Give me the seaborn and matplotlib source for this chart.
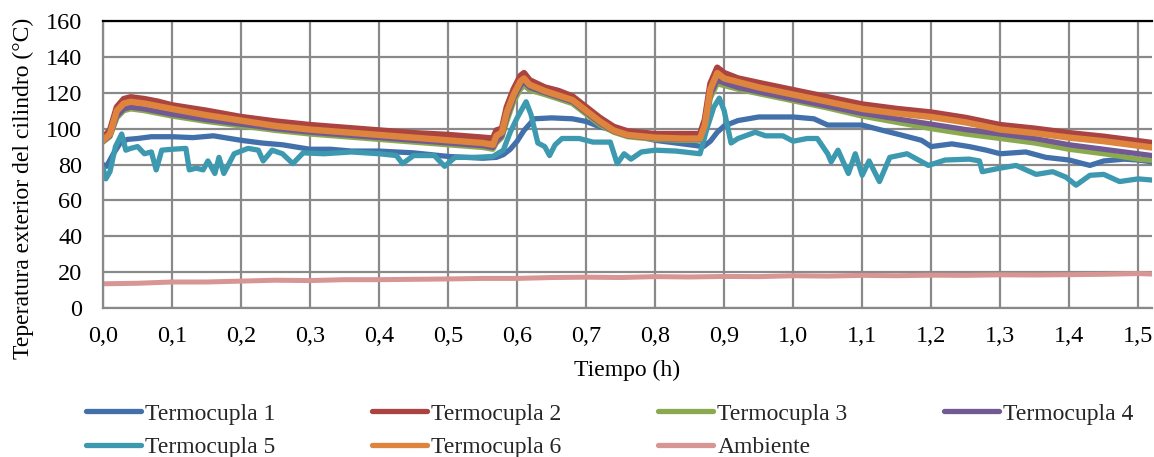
import pandas as pd
import matplotlib
matplotlib.use("Agg")
import matplotlib.pyplot as plt
import seaborn as sns

# tiempo (h) comun para las termocuplas 2, 3, 4 y 6
t_hot = [0, 0.01, 0.02, 0.03, 0.04, 0.06, 0.08, 0.1, 0.15, 0.2, 0.25, 0.3, 0.35, 0.4, 0.45, 0.5, 0.55,
         0.565, 0.57, 0.578, 0.585, 0.595, 0.605, 0.61, 0.618, 0.64, 0.66, 0.68, 0.7, 0.72, 0.74, 0.76,
         0.8, 0.84, 0.865, 0.872, 0.88, 0.89, 0.9, 0.92, 0.95, 1.0, 1.05, 1.1, 1.15, 1.2, 1.25, 1.3,
         1.35, 1.4, 1.45, 1.5, 1.53]
tc2 = [95, 99, 112, 116.5, 117.5, 116.5, 115, 113, 110, 106.5, 104, 102, 100.5, 99, 97.5, 96.5, 95,
       94.5, 99, 100, 112, 122, 129.5, 131, 127, 123, 121, 118, 112, 106, 101, 98.5,
       97, 97, 97, 105, 125, 134, 131, 128, 125.5, 121.5, 117.5, 113.5, 111, 109, 106, 102,
       100, 97.5, 95.5, 93, 91.5]
tc6 = [93.5, 97, 110, 114, 115, 114, 112.5, 111, 107.5, 104.5, 101.5, 99.5, 98, 96.5, 95, 93.5, 92,
       91, 96, 98, 109, 119, 126.5, 128, 124.5, 121, 118.5, 116, 110, 104, 99, 96.5,
       95, 94.5, 94.5, 102, 122, 131, 128, 126, 123, 119, 115, 111, 108.5, 106.5, 103.5, 99.5,
       97.5, 95, 93, 90.5, 89]
tc4 = [93, 96, 107, 111, 112, 111, 109.5, 108, 105, 102.5, 100, 98, 96.5, 95, 93.5, 92, 90.5,
       89.5, 93, 96, 106, 117, 124, 126, 123, 120, 117.5, 115, 109, 103, 98.5, 96,
       94.5, 94, 94, 100, 119, 127, 125.5, 123, 120.5, 116.5, 112.5, 108.5, 105.5, 102.5, 99.5, 97,
       94.5, 91, 88.5, 86, 84.5]
tc3 = [92.5, 95.5, 106, 110, 111, 110, 108.5, 107, 104, 101.5, 99, 97, 95.5, 94, 92.5, 91, 89.5,
       88.5, 92, 95, 104, 115, 122, 124, 121.5, 119, 116.5, 114, 108, 102, 98, 95.5,
       94, 93.5, 93.5, 99, 117, 125, 124, 122, 119.5, 115.5, 111.5, 107, 103.5, 100, 97, 94.5,
       92, 88.5, 86, 83, 82]

t_tc1 = [0, 0.005, 0.015, 0.025, 0.035, 0.05, 0.07, 0.1, 0.13, 0.16, 0.2, 0.23, 0.26, 0.3, 0.33,
         0.36, 0.4, 0.45, 0.5, 0.55, 0.57, 0.58, 0.59, 0.6, 0.61, 0.625, 0.65, 0.68, 0.7, 0.72,
         0.75, 0.8, 0.85, 0.87, 0.88, 0.89, 0.9, 0.92, 0.95, 1.0, 1.03, 1.05, 1.08, 1.1, 1.13,
         1.156, 1.186, 1.2, 1.23, 1.255, 1.28, 1.3, 1.337, 1.366, 1.4, 1.43, 1.45, 1.48, 1.5, 1.53]
tc1 = [80, 79, 86, 92, 94, 94.5, 95.5, 95.5, 95, 96, 93.5, 92, 91, 88.5, 88.5,
       87.5, 87.5, 86.5, 84.5, 83.5, 84, 85.5, 88.5, 93, 99, 105.5, 106, 105.5, 104, 101,
       98, 93.5, 91, 90, 93, 98, 101.5, 104.5, 106.5, 106.5, 105.5, 102, 102, 102, 99,
       96.5, 93.5, 90, 91.5, 90, 88, 86, 87, 84, 82.5, 79.5, 82, 83, 82.5, 81]

t_tc5 = [0, 0.004, 0.01, 0.018, 0.027, 0.033, 0.04, 0.05, 0.06, 0.07,
         0.077, 0.085, 0.1, 0.12, 0.125, 0.135, 0.145, 0.152, 0.162, 0.168,
         0.175, 0.19, 0.21, 0.225, 0.232, 0.245, 0.26, 0.275, 0.29, 0.32,
         0.36, 0.4, 0.425, 0.434, 0.45, 0.48, 0.495, 0.51, 0.54, 0.565,
         0.58, 0.59, 0.6, 0.613, 0.62, 0.63, 0.64, 0.647, 0.655, 0.665,
         0.69, 0.71, 0.735, 0.745, 0.755, 0.765, 0.78, 0.8, 0.83, 0.865,
         0.875, 0.885, 0.893, 0.9, 0.91, 0.92, 0.945, 0.96, 0.985, 1.0,
         1.02, 1.035, 1.05, 1.055, 1.065, 1.08, 1.09, 1.1, 1.11, 1.125,
         1.14, 1.165, 1.196, 1.22, 1.255, 1.27, 1.274, 1.3, 1.323, 1.352,
         1.376, 1.395, 1.41, 1.43, 1.45, 1.473, 1.5, 1.53]
tc5 = [78, 72, 76, 90, 97, 88, 89, 90, 86, 87,
       77, 88, 88.5, 89, 77, 78, 77, 82, 75, 84,
       75, 86, 89, 88, 82, 88, 86, 80.5, 86.5, 86,
       87, 86, 85, 80.5, 85, 85, 79, 84, 84, 84.5,
       88, 98, 106, 115, 108, 92, 90, 85, 91, 94.5,
       94.5, 92.5, 92.5, 80.5, 86, 83, 87, 88, 87.5, 86,
       100, 112, 117, 110, 92, 94.5, 98, 96, 96, 93,
       94.5, 94.5, 86, 81.5, 88, 75, 86, 74, 82, 70.5,
       84, 86, 79.5, 82.5, 83, 82, 76, 78, 79.5, 74.5,
       76, 73, 68.5, 74, 74.5, 70.5, 72, 71]

t_amb = [0, 0.05, 0.1, 0.15, 0.2, 0.25, 0.3, 0.35, 0.4, 0.45, 0.5, 0.55, 0.6, 0.65, 0.7, 0.75,
         0.8, 0.85, 0.9, 0.95, 1.0, 1.05, 1.1, 1.15, 1.2, 1.25, 1.3, 1.35, 1.4, 1.45, 1.5, 1.53]
amb = [13.5, 13.8, 14.5, 14.5, 15, 15.5, 15.3, 15.8, 15.8, 16, 16.2, 16.5, 16.5, 17, 17.2, 17,
       17.5, 17.3, 17.6, 17.5, 18, 17.8, 18.2, 18, 18.3, 18.2, 18.5, 18.4, 18.6, 18.8, 19.2, 18.8]

series = ['Termocupla 1', 'Termocupla 2', 'Termocupla 3', 'Termocupla 4',
          'Termocupla 5', 'Termocupla 6', 'Ambiente']
colores = ['#4270AA', '#AB4441', '#8BAA4F', '#715A94', '#3D99B0', '#DE843C', '#D79593']
grosor = [3.8, 4.6, 3.8, 3.8, 3.8, 4.6, 3.6]

frames = []
for name, t, v in zip(series,
                      [t_tc1, t_hot, t_hot, t_hot, t_tc5, t_hot, t_amb],
                      [tc1, tc2, tc3, tc4, tc5, tc6, amb]):
    frames.append(pd.DataFrame({'t': t, 'T': v, 'serie': name}))
df = pd.concat(frames, ignore_index=True)

sns.set_theme(style="whitegrid")
plt.rcParams['font.family'] = ['Liberation Serif', 'DejaVu Serif']

fig = plt.figure(figsize=(11.54, 4.57), dpi=100)
ax = fig.add_axes([0.0893, 0.326, 0.909, 0.628])

sns.lineplot(data=df, x='t', y='T', hue='serie', hue_order=series,
             palette=dict(zip(series, colores)), estimator=None, sort=False,
             linewidth=3.8, ax=ax)
for line, lw in zip(ax.get_lines(), grosor):
    line.set_linewidth(lw)
    line.set_solid_joinstyle('round')

gris = '#898989'
ax.set_xlim(0, 1.52)
ax.set_ylim(0, 160)
ax.set_xticks([i / 10 for i in range(16)])
ax.set_xticklabels([f"{i / 10:.1f}".replace('.', ',') for i in range(16)])
ax.set_yticks(range(0, 161, 20))
ax.grid(True, color=gris, linewidth=1.6)
ax.set_axisbelow(True)
for s in ['left', 'bottom']:
    ax.spines[s].set_color(gris)
    ax.spines[s].set_linewidth(1.6)
ax.spines['right'].set_visible(False)
ax.spines['top'].set_color('black')
ax.spines['top'].set_linewidth(1.6)
ax.tick_params(direction='out', length=5, width=1.6, color=gris, labelsize=17.5,
               labelcolor='black')
ax.tick_params(axis='y', pad=10)
ax.tick_params(axis='x', pad=8)
ax.set_xlabel('Tiempo (h)', fontsize=17, color='black', labelpad=9)
ax.set_ylabel('Teperatura exterior del cilindro (°C)', fontsize=17, color='black')
ax.yaxis.set_label_coords(-0.066, 0.418)

handles, labels = ax.get_legend_handles_labels()
ax.get_legend().remove()
orden = [0, 4, 1, 5, 2, 6, 3]
leg = fig.legend([handles[i] for i in orden], [labels[i] for i in orden], ncol=4,
                 loc='upper left', bbox_to_anchor=(0.0745, 0.118), frameon=False,
                 fontsize=17, handlelength=2.33, handletextpad=0.17, columnspacing=4.1,
                 labelspacing=0.52, borderpad=0, borderaxespad=0)
for h in leg.get_lines():
    h.set_linewidth(3.8)
    h.set_solid_capstyle('round')

fig.savefig('out.png', dpi=100)
